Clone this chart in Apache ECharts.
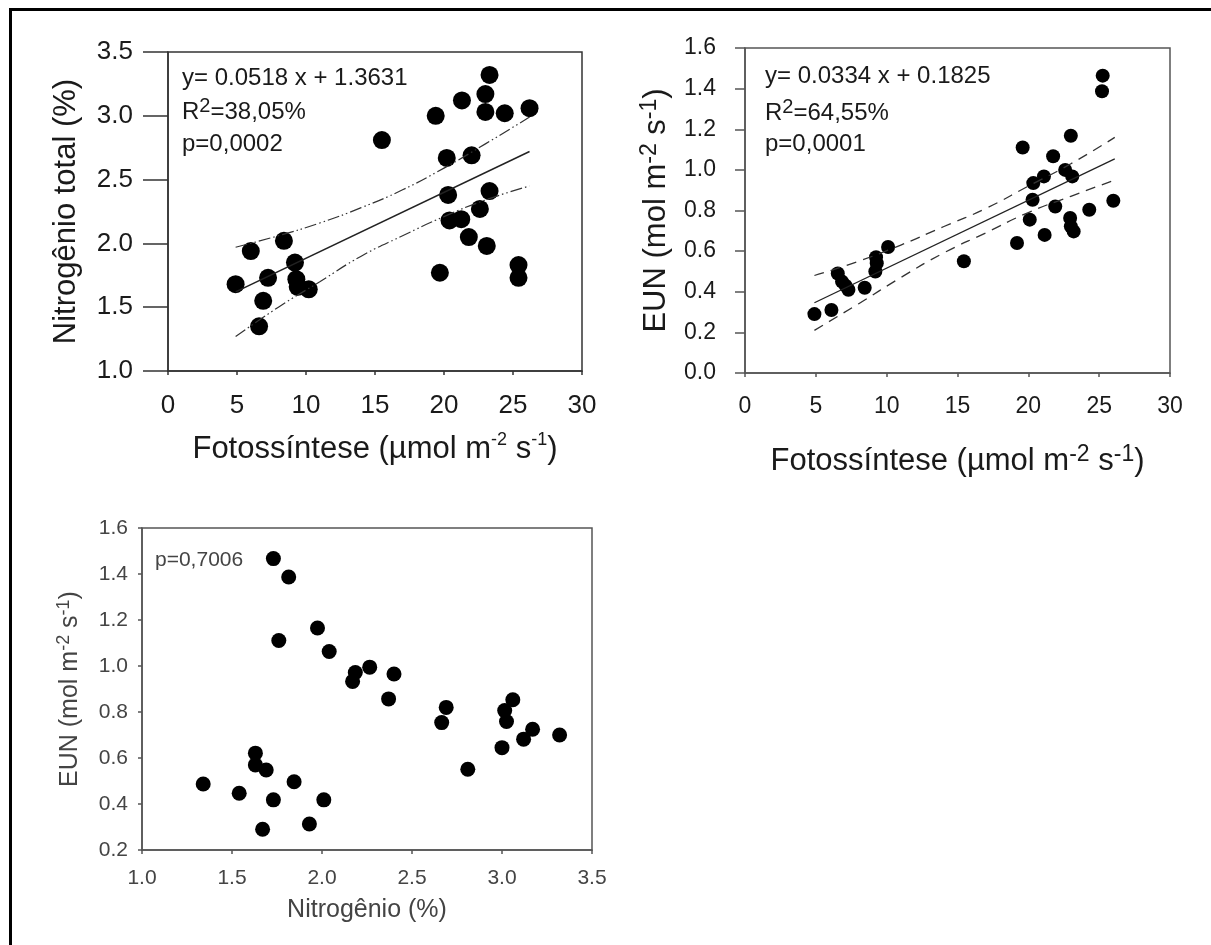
<!DOCTYPE html>
<html>
<head>
<meta charset="utf-8">
<script src="https://cdn.jsdelivr.net/npm/echarts@6/dist/echarts.min.js"></script>
<style>
html, body { margin: 0; padding: 0; background: #fff; }
#chart { width: 1211px; height: 945px; }
</style>
</head>
<body>
<div id="chart"></div>
<script>
// painel A: fotossintese x nitrogenio total
const fotoA = [4.9, 6.0, 8.4, 7.25, 6.9, 6.6, 9.2, 9.3, 9.4, 10.2, 15.5, 19.4, 19.7, 20.2, 20.3, 20.4, 21.25, 21.3, 22.0, 21.8, 22.6, 23.1, 23.3, 23.3, 23.0, 23.0, 24.4, 26.2, 25.4, 25.4];
const nitroA = [1.68, 1.94, 2.02, 1.73, 1.55, 1.35, 1.85, 1.72, 1.66, 1.64, 2.81, 3.0, 1.77, 2.67, 2.38, 2.18, 2.19, 3.12, 2.69, 2.05, 2.27, 1.98, 2.41, 3.32, 3.17, 3.03, 3.02, 3.06, 1.83, 1.73];
const fitA = [[4.9, 1.62], [26.2, 2.72]];
const bandXA = [4.9, 8, 11, 14, 17, 20, 23, 26.2];
const upperA = [1.97, 2.06, 2.16, 2.28, 2.42, 2.59, 2.78, 2.99];
const lowerA = [1.27, 1.50, 1.70, 1.90, 2.06, 2.21, 2.34, 2.45];
const xTicksA = [0, 5, 10, 15, 20, 25, 30];
const yTicksA = [1.0, 1.5, 2.0, 2.5, 3.0, 3.5];

// painel B: fotossintese x EUN
const fotoB = [4.9, 6.1, 6.55, 6.85, 7.1, 7.3, 8.45, 9.2, 9.25, 9.3, 10.1, 15.45, 19.2, 19.6, 20.1, 20.3, 20.35, 21.1, 21.15, 21.75, 21.9, 22.6, 23.0, 23.1, 22.95, 23.0, 23.2, 24.3, 25.25, 25.2, 26.0];
const eunB = [0.29, 0.31, 0.49, 0.45, 0.43, 0.41, 0.42, 0.50, 0.57, 0.54, 0.62, 0.55, 0.64, 1.11, 0.755, 0.853, 0.935, 0.968, 0.68, 1.067, 0.82, 1.0, 1.168, 0.968, 0.763, 0.722, 0.697, 0.804, 1.464, 1.387, 0.848];
const fitB = [[4.9, 0.346], [26.1, 1.054]];
const bandXB = [4.9, 8, 11, 14, 17, 20, 23, 26.1];
const upperB = [0.48, 0.55, 0.63, 0.72, 0.81, 0.92, 1.03, 1.16];
const lowerB = [0.21, 0.34, 0.47, 0.59, 0.69, 0.79, 0.87, 0.95];
const xTicksB = [0, 5, 10, 15, 20, 25, 30];
const yTicksB = [0.0, 0.2, 0.4, 0.6, 0.8, 1.0, 1.2, 1.4, 1.6];

// painel C: nitrogenio x EUN
const nitroC = [1.73, 1.815, 1.76, 1.975, 2.04, 2.17, 2.185, 2.265, 2.40, 2.37, 2.665, 2.69, 2.81, 3.0, 3.015, 3.025, 3.06, 3.12, 3.17, 3.32, 1.63, 1.63, 1.69, 1.34, 1.54, 1.845, 1.73, 2.01, 1.67, 1.93];
const eunC = [1.467, 1.387, 1.111, 1.165, 1.063, 0.933, 0.972, 0.995, 0.965, 0.857, 0.754, 0.82, 0.551, 0.645, 0.806, 0.759, 0.853, 0.682, 0.725, 0.70, 0.621, 0.57, 0.548, 0.487, 0.447, 0.497, 0.418, 0.418, 0.29, 0.313];
const xTicksC = [1.0, 1.5, 2.0, 2.5, 3.0, 3.5];
const yTicksC = [0.2, 0.4, 0.6, 0.8, 1.0, 1.2, 1.4, 1.6];

const FONT = "'Liberation Sans', Arial, sans-serif";
const INK = '#1a1a1a';

const pairs = (xs, ys) => xs.map((x, i) => [x, ys[i]]);

function axisOf(ticks, opt) {
  return {
    type: 'value',
    gridIndex: opt.grid,
    min: ticks[0],
    max: ticks[ticks.length - 1],
    interval: ticks[1] - ticks[0],
    splitLine: { show: false },
    axisLine: { show: true, onZero: false, lineStyle: { color: opt.color, width: 1.5 } },
    axisTick: { show: true, length: opt.tick, lineStyle: { color: opt.color, width: 1.5 } },
    axisLabel: {
      fontFamily: FONT,
      fontSize: opt.size,
      color: opt.text,
      margin: opt.margin,
      formatter: v => opt.dec ? v.toFixed(1) : String(v)
    },
    name: opt.name,
    nameLocation: 'middle',
    nameGap: opt.gap,
    nameTextStyle: {
      fontFamily: FONT,
      fontSize: opt.nsize,
      color: opt.text,
      rich: {
        t: { fontFamily: FONT, fontSize: opt.nsize, color: opt.text, lineHeight: opt.nsize + 6 },
        s: { fontFamily: FONT, fontSize: opt.ssize, color: opt.text, verticalAlign: 'top', lineHeight: opt.ssize }
      }
    }
  };
}

// texto de anotacao com R2 sobrescrito
function note(left, top, text, size, sup, fill) {
  return {
    type: 'text', left: left, top: top,
    style: {
      text: text,
      rich: {
        t: { font: size + 'px ' + FONT, fill: fill, lineHeight: size + 8 },
        s: { font: sup + 'px ' + FONT, fill: fill, verticalAlign: 'top', lineHeight: sup }
      },
      font: size + 'px ' + FONT,
      fill: fill
    }
  };
}

const myChart = echarts.init(document.getElementById('chart'));

const option = {
  backgroundColor: '#fff',
  animation: false,
  grid: [
    { left: 168, top: 52, width: 414, height: 319, show: true, borderColor: '#333', borderWidth: 1.5 },
    { left: 745, top: 48, width: 425, height: 325, show: true, borderColor: '#555', borderWidth: 1.5 },
    { left: 142, top: 528, width: 450, height: 322, show: true, borderColor: '#555', borderWidth: 1.5 }
  ],
  xAxis: [
    axisOf(xTicksA, { grid: 0, color: '#333', text: INK, tick: 4, size: 26, margin: 22, dec: false,
      name: '{t|Fotossíntese (µmol m}{s|-2}{t| s}{s|-1}{t|)}', gap: 60, nsize: 31, ssize: 18 }),
    axisOf(xTicksB, { grid: 1, color: '#555', text: INK, tick: 4, size: 23, margin: 22, dec: false,
      name: '{t|Fotossíntese (µmol m}{s|-2}{t| s}{s|-1}{t|)}', gap: 70, nsize: 31, ssize: 23 }),
    axisOf(xTicksC, { grid: 2, color: '#555', text: '#444', tick: 4, size: 21, margin: 18, dec: true,
      name: 'Nitrogênio (%)', gap: 48, nsize: 25, ssize: 16 })
  ],
  yAxis: [
    axisOf(yTicksA, { grid: 0, color: '#333', text: INK, tick: 25, size: 26, margin: 35, dec: true,
      name: 'Nitrogênio total (%)', gap: 86, nsize: 31, ssize: 18 }),
    axisOf(yTicksB, { grid: 1, color: '#555', text: INK, tick: 10, size: 23, margin: 29, dec: true,
      name: '{t|EUN (mol m}{s|-2}{t| s}{s|-1}{t|)}', gap: 70, nsize: 31, ssize: 23 }),
    axisOf(yTicksC, { grid: 2, color: '#555', text: '#444', tick: 4, size: 21, margin: 14, dec: true,
      name: '{t|EUN (mol m}{s|-2}{t| s}{s|-1}{t|)}', gap: 56, nsize: 25, ssize: 18 })
  ],
  graphic: [
    { type: 'rect', shape: { x: 10.5, y: 9.5, width: 1400, height: 1100 }, style: { fill: 'none', stroke: '#000', lineWidth: 3 } },
    note(182, 66, 'y= 0.0518 x + 1.3631', 24, 18, INK),
    note(182, 96, '{t|R}{s|2}{t|=38,05%}', 24, 20, INK),
    note(182, 132, 'p=0,0002', 24, 18, INK),
    note(765, 64, 'y= 0.0334 x + 0.1825', 24, 18, INK),
    note(765, 97, '{t|R}{s|2}{t|=64,55%}', 24, 20, INK),
    note(765, 132, 'p=0,0001', 24, 18, INK),
    note(155, 550, 'p=0,7006', 21, 16, '#444')
  ],
  series: [
    { type: 'line', xAxisIndex: 0, yAxisIndex: 0, data: fitA, showSymbol: false, lineStyle: { color: '#222', width: 1.5 } },
    { type: 'line', xAxisIndex: 0, yAxisIndex: 0, data: pairs(bandXA, upperA), smooth: true, showSymbol: false,
      lineStyle: { color: '#333', width: 1.2, type: [12, 3, 1.5, 3, 1.5, 3] } },
    { type: 'line', xAxisIndex: 0, yAxisIndex: 0, data: pairs(bandXA, lowerA), smooth: true, showSymbol: false,
      lineStyle: { color: '#333', width: 1.2, type: [12, 3, 1.5, 3, 1.5, 3] } },
    { type: 'scatter', xAxisIndex: 0, yAxisIndex: 0, data: pairs(fotoA, nitroA), symbolSize: 18, itemStyle: { color: '#000', opacity: 1 } },

    { type: 'line', xAxisIndex: 1, yAxisIndex: 1, data: fitB, showSymbol: false, lineStyle: { color: '#222', width: 1.3 } },
    { type: 'line', xAxisIndex: 1, yAxisIndex: 1, data: pairs(bandXB, upperB), smooth: true, showSymbol: false,
      lineStyle: { color: '#333', width: 1.3, type: [10, 7] } },
    { type: 'line', xAxisIndex: 1, yAxisIndex: 1, data: pairs(bandXB, lowerB), smooth: true, showSymbol: false,
      lineStyle: { color: '#333', width: 1.3, type: [10, 7] } },
    { type: 'scatter', xAxisIndex: 1, yAxisIndex: 1, data: pairs(fotoB, eunB), symbolSize: 14, itemStyle: { color: '#000', opacity: 1 } },

    { type: 'scatter', xAxisIndex: 2, yAxisIndex: 2, data: pairs(nitroC, eunC), symbolSize: 15, itemStyle: { color: '#000', opacity: 1 } }
  ]
};

myChart.setOption(option);
window.addEventListener('resize', function () {
  myChart.resize();
});
</script>
</body>
</html>
